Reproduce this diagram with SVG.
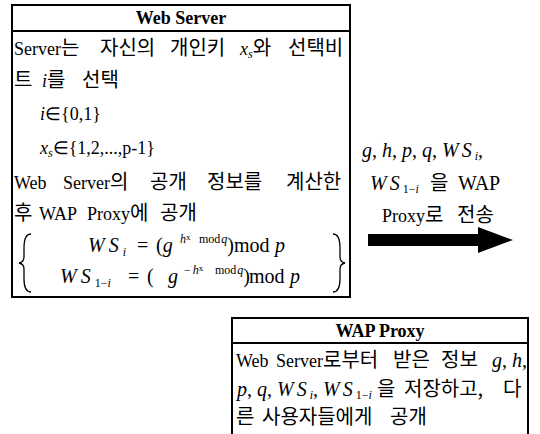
<svg xmlns="http://www.w3.org/2000/svg" width="540" height="434" viewBox="0 0 540 434">
<style>
.t{font-family:"Liberation Serif","Noto Sans CJK KR",serif;font-size:18px;fill:#000}
.e{font-family:"Liberation Serif",serif}
.k{font-family:"Noto Sans CJK KR",sans-serif;font-size:20px}
.f{font-size:20px}
.b{font-weight:bold}
.m{font-style:italic;font-family:"Liberation Serif",serif}
.s{font-size:12px}
.ss{font-size:9px}
.box{fill:#fff;stroke:#000;stroke-width:2}
.ln{stroke:#000;stroke-width:2}
.br{fill:none;stroke:#000;stroke-width:1.3}
</style>
<g id="web-server">
<rect class="box" x="12" y="5" width="338" height="292"/>
<line class="ln" x1="12" y1="31" x2="350" y2="31"/>
<text class="t e b" x="181" y="24" text-anchor="middle">Web Server</text>
<text class="t" y="55"><tspan class="e" x="14">Server</tspan><tspan class="k">는</tspan><tspan class="k" x="100">자신의</tspan><tspan class="k" x="170">개인키</tspan><tspan x="240" class="m">x</tspan><tspan class="m s" dy="3">s</tspan><tspan class="k" dy="-3">와</tspan><tspan class="k" x="288">선택비</tspan></text>
<text class="t" y="87"><tspan class="k" x="14">트</tspan><tspan x="42" class="m">i</tspan><tspan class="k">를</tspan><tspan class="k" x="82">선택</tspan></text>
<text class="t e" y="120"><tspan x="40" class="m">i</tspan><tspan>∈{0,1}</tspan></text>
<text class="t e" y="154"><tspan x="40" class="m">x</tspan><tspan class="m s" dy="3">s</tspan><tspan dy="-3">∈{1,2,...,p-1}</tspan></text>
<text class="t" y="189"><tspan class="e" x="14">Web</tspan><tspan class="e" x="63">Server</tspan><tspan class="k">의</tspan><tspan class="k" x="150">공개</tspan><tspan class="k" x="207">정보를</tspan><tspan class="k" x="286">계산한</tspan></text>
<text class="t" y="220"><tspan class="k" x="14">후</tspan><tspan class="e" x="39">WAP</tspan><tspan class="e" x="87">Proxy</tspan><tspan class="k">에</tspan><tspan class="k" x="160">공개</tspan></text>
<path class="br" d="M31 234 Q24 234 24 248 L24 257 Q24 262 19 263 Q24 264 24 269 L24 279 Q24 292 31 292"/>
<text class="t e f" y="252"><tspan x="88" class="m" letter-spacing="4">WS</tspan><tspan class="m s" dy="4">i</tspan><tspan dy="-4" x="137">=</tspan><tspan x="156">(</tspan><tspan class="m">g</tspan><tspan class="m s" dy="-9" x="180">h</tspan><tspan class="ss" dy="-3">x</tspan><tspan class="s" dy="3" x="199">mod</tspan><tspan class="m s" dx="1">q</tspan><tspan dy="9">)</tspan><tspan x="234">mod</tspan><tspan x="275" class="m">p</tspan></text>
<text class="t e f" y="283"><tspan x="60" class="m" letter-spacing="4">WS</tspan><tspan class="s" dy="4">1−</tspan><tspan class="m s">i</tspan><tspan dy="-4" x="128">=</tspan><tspan x="147">(</tspan><tspan x="168" class="m">g</tspan><tspan class="s" dy="-9" x="184">−</tspan><tspan class="m s" dx="2">h</tspan><tspan class="ss" dy="-3">x</tspan><tspan class="s" dy="3" x="215">mod</tspan><tspan class="m s" dx="1">q</tspan><tspan dy="9">)</tspan><tspan x="249">mod</tspan><tspan x="290" class="m">p</tspan></text>
<path class="br" d="M333 234 Q340 234 340 248 L340 257 Q340 262 345 263 Q340 264 340 269 L340 279 Q340 292 333 292"/>
</g>
<g id="connectors">
<text class="t e f" y="157"><tspan x="362" class="m">g</tspan><tspan>, </tspan><tspan class="m">h</tspan><tspan>, </tspan><tspan class="m">p</tspan><tspan>, </tspan><tspan class="m">q</tspan><tspan>, </tspan><tspan class="m" letter-spacing="3">WS</tspan><tspan class="m s" dy="3">i</tspan><tspan dy="-3">,</tspan></text>
<text class="t f" y="190"><tspan x="370" class="m" letter-spacing="3">WS</tspan><tspan class="e s" dy="3">1−</tspan><tspan class="m s">i</tspan><tspan class="k" dy="-3" x="430">을</tspan><tspan class="e" x="458">WAP</tspan></text>
<text class="t" y="222"><tspan class="e" x="382">Proxy</tspan><tspan class="k">로</tspan><tspan class="k" x="457">전송</tspan></text>
<polygon points="368,234 478,234 478,227 513,240 478,253 478,246 368,246" fill="#000"/>
</g>
<g id="wap-proxy">
<rect class="box" x="232" y="318" width="296" height="130"/>
<line class="ln" x1="232" y1="343" x2="528" y2="343"/>
<text class="t e b" x="380" y="337" text-anchor="middle">WAP Proxy</text>
<text class="t" y="367"><tspan class="e" x="236">Web</tspan><tspan class="e" x="276">Server</tspan><tspan class="k">로부터</tspan><tspan class="k" x="393">받은</tspan><tspan class="k" x="441">정보</tspan><tspan x="492" class="m f">g</tspan><tspan class="e f">, </tspan><tspan class="m f">h</tspan><tspan class="e f">,</tspan></text>
<text class="t f" y="396"><tspan x="237" class="m">p</tspan><tspan class="e">, </tspan><tspan class="m">q</tspan><tspan class="e">, </tspan><tspan class="m" letter-spacing="3">WS</tspan><tspan class="m s" dy="3">i</tspan><tspan class="e" dy="-3">, </tspan><tspan class="m" letter-spacing="3">WS</tspan><tspan class="e s" dy="3">1−</tspan><tspan class="m s">i</tspan><tspan class="k" dy="-3" x="377">을</tspan><tspan class="k" x="404">저장하고,</tspan><tspan class="k" x="503">다</tspan></text>
<text class="t" y="424"><tspan class="k" x="236">른</tspan><tspan class="k" x="262">사용자들에게</tspan><tspan class="k" x="390">공개</tspan></text>
</g>
</svg>
